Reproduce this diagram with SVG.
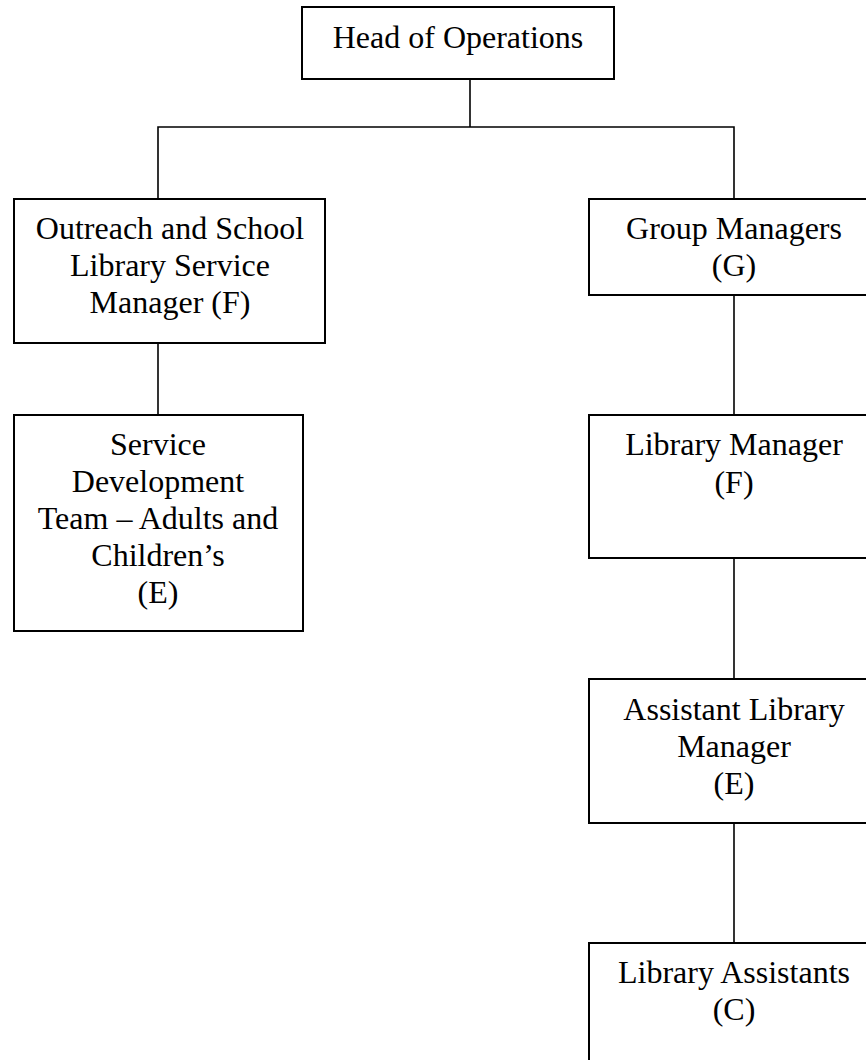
<svg xmlns="http://www.w3.org/2000/svg" width="866" height="1060" viewBox="0 0 866 1060">
<style>
.box{fill:#fff;stroke:#000;stroke-width:2}
.ln{fill:none;stroke:#000;stroke-width:1.6}
text{font-family:"Liberation Serif","Times New Roman",serif;font-size:32px;fill:#000;text-anchor:middle}
</style>
<rect width="866" height="1060" fill="#fff"/>
<g id="connectors">
<line class="ln" x1="470" y1="79" x2="470" y2="127"/>
<polyline class="ln" points="158,199 158,127 734,127 734,199"/>
<line class="ln" x1="158" y1="343" x2="158" y2="415"/>
<line class="ln" x1="734" y1="295" x2="734" y2="415"/>
<line class="ln" x1="734" y1="558" x2="734" y2="679"/>
<line class="ln" x1="734" y1="823" x2="734" y2="943"/>
</g>
<g id="head">
<rect class="box" x="302" y="7" width="312" height="72"/>
<text x="458" y="48">Head of Operations</text>
</g>
<g id="outreach">
<rect class="box" x="14" y="199" width="311" height="144"/>
<text x="170" y="239">Outreach and School</text>
<text x="170" y="276">Library Service</text>
<text x="170" y="313">Manager (F)</text>
</g>
<g id="service-dev">
<rect class="box" x="14" y="415" width="289" height="216"/>
<text x="158" y="455">Service</text>
<text x="158" y="492">Development</text>
<text x="158" y="529">Team – Adults and</text>
<text x="158" y="566">Children’s</text>
<text x="158" y="603">(E)</text>
</g>
<g id="group-managers">
<rect class="box" x="589" y="199" width="292" height="96"/>
<text x="734" y="239">Group Managers</text>
<text x="734" y="276">(G)</text>
</g>
<g id="library-manager">
<rect class="box" x="589" y="415" width="292" height="143"/>
<text x="734" y="455">Library Manager</text>
<text x="734" y="493">(F)</text>
</g>
<g id="assistant-library-manager">
<rect class="box" x="589" y="679" width="292" height="144"/>
<text x="734" y="720">Assistant Library</text>
<text x="734" y="757">Manager</text>
<text x="734" y="794">(E)</text>
</g>
<g id="library-assistants">
<rect class="box" x="589" y="943" width="292" height="140"/>
<text x="734" y="983">Library Assistants</text>
<text x="734" y="1020">(C)</text>
</g>
</svg>
